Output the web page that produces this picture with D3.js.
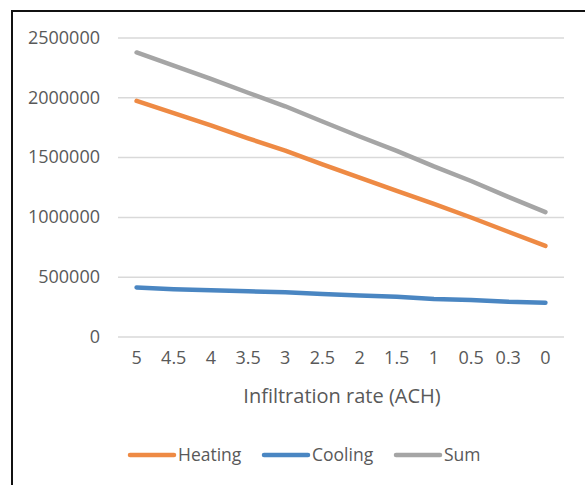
<!DOCTYPE html>
<html>
<head>
<meta charset="UTF-8">
<title>Infiltration rate vs heating / cooling load</title>
<script src="https://d3js.org/d3.v7.min.js"></script>
<style>
    body {
        margin: 0;
        background-color: #fff;
        font-family: "Open Sans", Arial, sans-serif;
    }
    .tick text {
        fill: #595959;
        font-size: 18px;
        font-family: "Open Sans", Arial, sans-serif;
    }
</style>
</head>
<body>
<svg id="main" width="585" height="485"></svg>
<script>
    // values
    var categories = ["5", "4.5", "4", "3.5", "3", "2.5", "2", "1.5", "1", "0.5", "0.3", "0"];
    var heating = [1970000, 1868000, 1765000, 1657000, 1555000, 1440000, 1328000, 1218000, 1108000, 995000, 876000, 757000];
    var cooling = [410000, 395000, 386000, 378000, 370000, 355000, 342000, 333000, 313000, 306000, 291000, 283000];
    var sum = [2375000, 2265000, 2155000, 2038000, 1925000, 1798000, 1672000, 1552000, 1422000, 1300000, 1168000, 1040000];
    var yTicks = [0, 500000, 1000000, 1500000, 2000000, 2500000];

    var series = [
        {name: "Heating", values: heating, color: "#EE8A44"},
        {name: "Cooling", values: cooling, color: "#4A86C2"},
        {name: "Sum", values: sum, color: "#A5A5A5"}
    ];

    var svg = d3.select("#main");

    svg.append("rect")
        .attr("width", 585).attr("height", 485)
        .attr("fill", "#fff");

    // frame (only top and left edges are inside the picture)
    svg.append("rect")
        .attr("x", 12).attr("y", 11)
        .attr("width", 620).attr("height", 520)
        .attr("fill", "none")
        .attr("stroke", "#111")
        .attr("stroke-width", 2);

    var x = d3.scaleBand()
        .domain(categories)
        .range([118, 564]);

    var y = d3.scaleLinear()
        .domain([0, 2500000])
        .range([336.5, 37.5]);

    // gridlines + y labels
    var yAxis = svg.append("g")
        .attr("transform", "translate(118,0)")
        .call(d3.axisLeft(y)
            .tickValues(yTicks)
            .tickFormat(d3.format("d"))
            .tickSize(-446)
            .tickPadding(18));
    yAxis.select(".domain").remove();
    yAxis.selectAll(".tick line")
        .attr("stroke", "#D9D9D9")
        .attr("stroke-width", 1.5);

    // category labels
    var xAxis = svg.append("g")
        .attr("transform", "translate(0,351)")
        .call(d3.axisBottom(x).tickSize(0).tickPadding(0));
    xAxis.select(".domain").remove();
    xAxis.selectAll(".tick text").attr("dy", "0.71em");

    svg.append("text")
        .attr("x", 342)
        .attr("y", 396)
        .attr("dy", "0.35em")
        .attr("text-anchor", "middle")
        .attr("fill", "#595959")
        .style("font-size", "20px")
        .text("Infiltration rate (ACH)");

    var line = d3.line()
        .x(function(d, i) { return x(categories[i]) + x.bandwidth() / 2; })
        .y(function(d) { return y(d); });

    svg.selectAll(".series")
        .data(series)
        .enter()
        .append("path")
        .attr("class", "series")
        .attr("d", function(s) { return line(s.values); })
        .attr("fill", "none")
        .attr("stroke", function(s) { return s.color; })
        .attr("stroke-width", 4.5)
        .attr("stroke-linecap", "round")
        .attr("stroke-linejoin", "round");

    // legend
    var legendX = [130, 264, 396];
    var legend = svg.selectAll(".legend")
        .data(series)
        .enter()
        .append("g")
        .attr("class", "legend")
        .attr("transform", function(d, i) { return "translate(" + legendX[i] + ",455)"; });

    legend.append("line")
        .attr("x1", 0).attr("x2", 44)
        .attr("stroke", function(d) { return d.color; })
        .attr("stroke-width", 4.5)
        .attr("stroke-linecap", "round");

    legend.append("text")
        .attr("x", 48)
        .attr("dy", "0.35em")
        .attr("fill", "#595959")
        .style("font-size", "17.5px")
        .text(function(d) { return d.name; });
</script>
</body>
</html>
